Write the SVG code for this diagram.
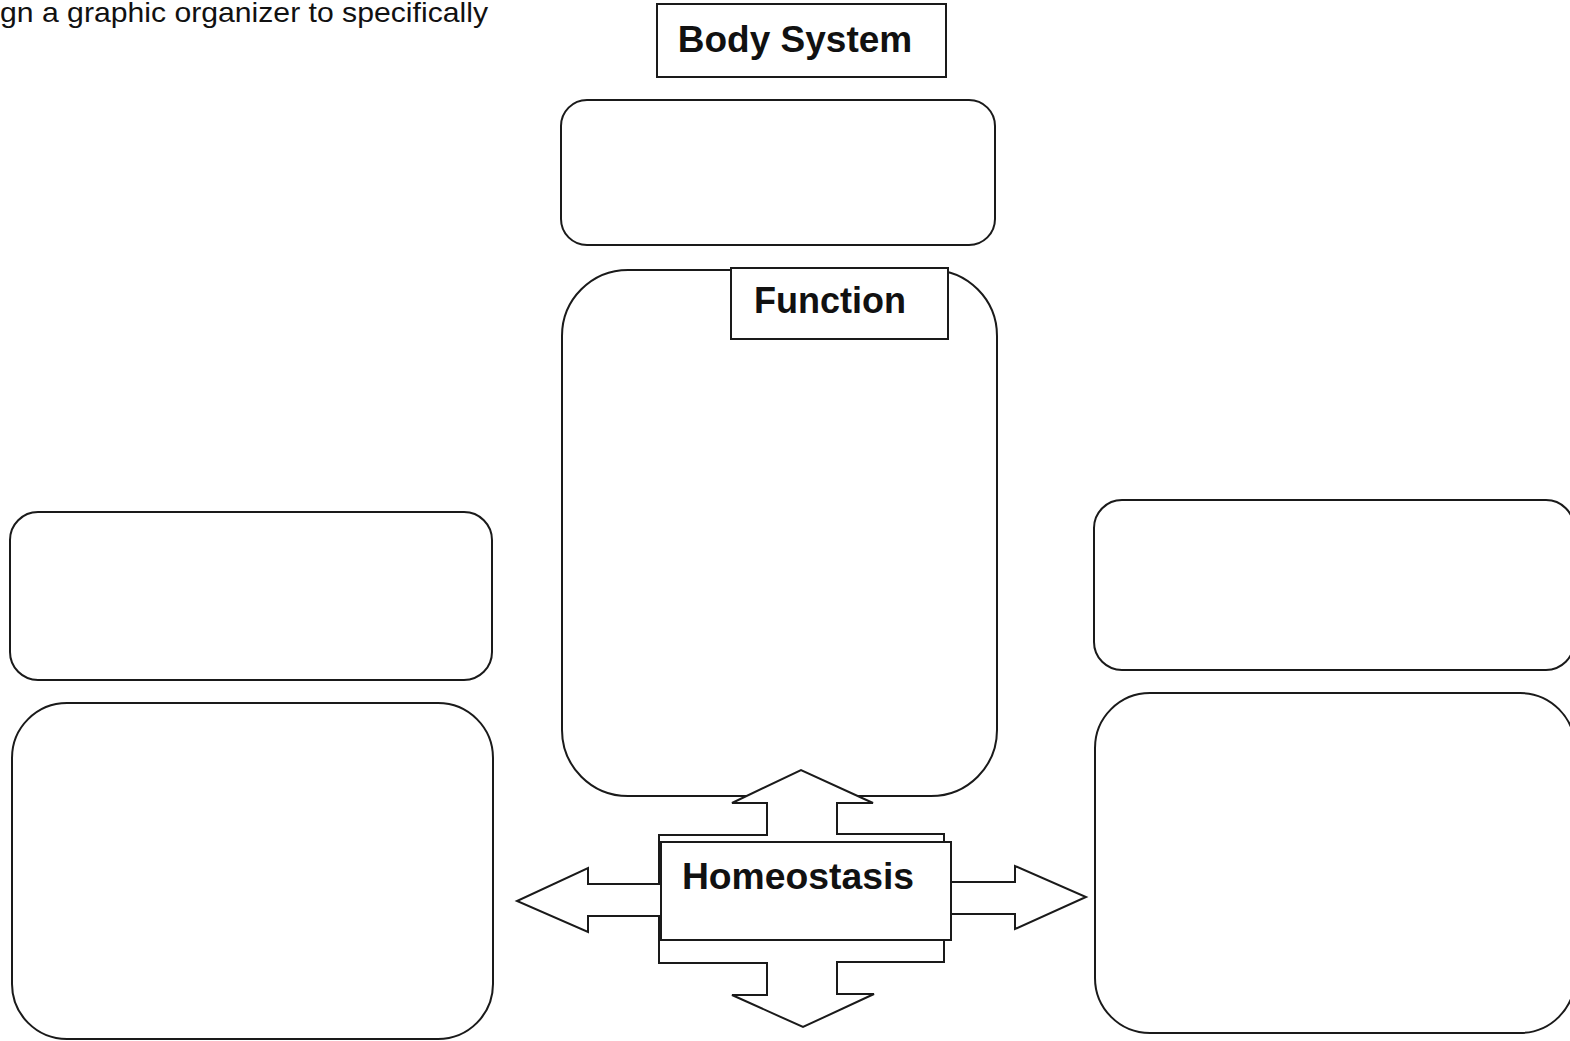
<svg xmlns="http://www.w3.org/2000/svg" width="1570" height="1041" viewBox="0 0 1570 1041">
<style>
.box{fill:#fff;stroke:#1a1a1a;stroke-width:2}
.lbl{font-family:"Liberation Sans",Arial,sans-serif;font-weight:bold;fill:#111;text-anchor:middle}
.arr{fill:#fff;stroke:#1a1a1a;stroke-width:2;stroke-linejoin:miter}
</style>
<rect width="1570" height="1041" fill="#fff"/>
<text x="0" y="22" font-family="'Liberation Sans',Arial,sans-serif" font-size="28" textLength="488" lengthAdjust="spacingAndGlyphs" fill="#111">gn a graphic organizer to specifically</text>

<g id="body-system">
<rect class="box" x="657" y="4" width="289" height="73"/>
<text class="lbl" x="795" y="52" font-size="37">Body System</text>
</g>

<g id="top-box">
<rect class="box" x="561" y="100" width="434" height="145" rx="26"/>
</g>

<g id="function-box">
<rect class="box" x="562" y="270" width="435" height="526" rx="66"/>
</g>

<g id="function-label">
<rect class="box" x="731" y="268" width="217" height="71"/>
<text class="lbl" x="830" y="313" font-size="36">Function</text>
</g>

<g id="left-top-box">
<rect class="box" x="10" y="512" width="482" height="168" rx="28"/>
</g>
<g id="left-bottom-box">
<rect class="box" x="12" y="703" width="481" height="336" rx="55"/>
</g>
<g id="right-top-box">
<rect class="box" x="1094" y="500" width="480" height="170" rx="28"/>
</g>
<g id="right-bottom-box">
<rect class="box" x="1095" y="693" width="480" height="340" rx="55"/>
</g>

<g id="connectors">
<polygon class="arr" points="767,835 767,803 732,803 801,770 873,803 837,803 837,834 944,834 944,962 837,962 837,994 874,994 803,1027 732,995 767,995 767,963 659,963 659,835"/>
<polygon class="arr" points="661,884 588,884 588,868 517,901 588,932 588,916 661,916"/>
<polygon class="arr" points="949,882 1015,882 1015,866 1086,897 1015,929 1015,914 949,914"/>
</g>

<g id="homeostasis">
<rect class="box" x="661" y="842" width="290" height="98"/>
<text class="lbl" x="798" y="889" font-size="37.3">Homeostasis</text>
</g>
</svg>
